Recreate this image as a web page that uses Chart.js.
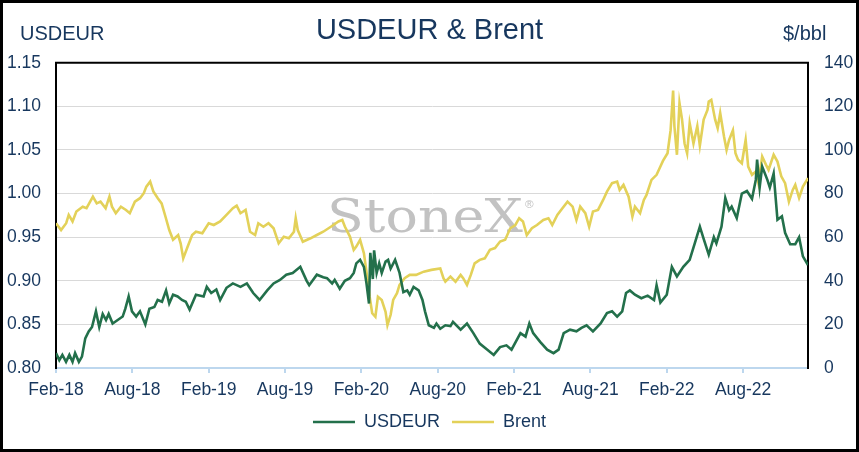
<!DOCTYPE html>
<html>
<head>
<meta charset="utf-8">
<title>USDEUR & Brent</title>
<script src="https://cdn.jsdelivr.net/npm/chart.js@4.4.1/dist/chart.umd.min.js"></script>
<style>
    html, body { margin: 0; padding: 0; background: #ffffff; }
    #wrap { position: relative; width: 859px; height: 452px; }
</style>
</head>
<body>
<div id="wrap"><canvas id="chart"></canvas></div>
<script>
// Months after 1 Feb 2018
const usdMonths = [
    0, 0.26, 0.5, 0.79, 1.05, 1.3, 1.5, 1.8, 2.04, 2.3,
    2.57, 2.83, 3.14, 3.4, 3.67, 3.93, 4.14, 4.45, 4.85, 5.24,
    5.45, 5.71, 5.97, 6.3, 6.6, 7.02, 7.34, 7.73, 7.99, 8.33,
    8.65, 8.9, 9.2, 9.56, 9.9, 10.2, 10.5, 11.0, 11.6, 11.85,
    12.2, 12.6, 12.9, 13.4, 13.9, 14.5, 15.0, 15.5, 16.0, 16.6,
    17.1, 17.6, 18.1, 18.6, 19.2, 19.7, 19.9, 20.5, 21.0, 21.3,
    21.7, 21.9, 22.3, 22.7, 23.1, 23.4, 23.6, 23.9, 24.2, 24.4,
    24.6, 24.7, 24.9, 25.0, 25.2, 25.4, 25.6, 25.9, 26.1, 26.3,
    26.65, 27.0, 27.3, 27.6, 27.8, 28.1, 28.5, 28.8, 29.0, 29.3,
    29.7, 29.9, 30.2, 30.6, 31.0, 31.2, 31.8, 32.3, 32.8, 33.3,
    33.9, 34.4, 34.9, 35.4, 35.8, 36.5, 36.9, 37.2, 37.5, 38.05,
    38.6, 39.1, 39.5, 39.9, 40.4, 40.9, 41.3, 41.7, 42.2, 42.8,
    43.3, 43.7, 44.1, 44.5, 44.8, 45.1, 45.5, 46.0, 46.5, 47.0,
    47.2, 47.5, 48.0, 48.4, 48.8, 49.3, 49.8, 50.2, 50.6, 50.9,
    51.3, 51.7, 51.9, 52.3, 52.6, 52.9, 53.1, 53.5, 53.9, 54.3,
    54.7, 55.0, 55.1, 55.3, 55.5, 55.9, 56.1, 56.4, 56.7, 57.05,
    57.3, 57.7, 58.1, 58.4, 58.7, 59.1
];
const usdValues = [
    0.817, 0.809, 0.815, 0.807, 0.815, 0.807, 0.817, 0.807, 0.813, 0.834,
    0.842, 0.847, 0.865, 0.847, 0.862, 0.855, 0.862, 0.851, 0.855, 0.859,
    0.868, 0.882, 0.865, 0.859, 0.865, 0.850, 0.868, 0.870, 0.878, 0.876,
    0.889, 0.874, 0.884, 0.882, 0.878, 0.876, 0.867, 0.884, 0.882, 0.893,
    0.886, 0.890, 0.878, 0.892, 0.897, 0.893, 0.897, 0.886, 0.878, 0.889,
    0.897, 0.901, 0.907, 0.909, 0.916, 0.900, 0.895, 0.907, 0.904, 0.903,
    0.897, 0.901, 0.891, 0.900, 0.903, 0.909, 0.920, 0.924, 0.916, 0.897,
    0.874, 0.932, 0.902, 0.935, 0.909, 0.920, 0.909, 0.922, 0.924, 0.914,
    0.924, 0.909, 0.887, 0.889, 0.884, 0.893, 0.889, 0.878, 0.865, 0.849,
    0.846, 0.851, 0.845, 0.849, 0.848, 0.853, 0.844, 0.851, 0.840, 0.828,
    0.821, 0.815, 0.824, 0.826, 0.821, 0.840, 0.836, 0.851, 0.840, 0.830,
    0.821, 0.817, 0.821, 0.840, 0.844, 0.842, 0.846, 0.849, 0.842, 0.851,
    0.863, 0.865, 0.859, 0.865, 0.886, 0.889, 0.884, 0.880, 0.883, 0.878,
    0.895, 0.875, 0.884, 0.916, 0.905, 0.916, 0.924, 0.943, 0.962, 0.948,
    0.930, 0.950, 0.943, 0.962, 0.995, 0.981, 0.985, 0.972, 1.000, 1.003,
    0.994, 1.016, 1.039, 1.007, 1.031, 1.016, 1.007, 1.023, 0.970, 0.974,
    0.955, 0.942, 0.942, 0.950, 0.928, 0.918
];

const brentMonths = [
    0, 0.4, 0.8, 1.0, 1.3, 1.6, 2.1, 2.4, 2.9, 3.2,
    3.5, 3.9, 4.2, 4.4, 4.7, 5.1, 5.5, 5.8, 6.2, 6.6,
    6.9, 7.1, 7.4, 7.65, 8.0, 8.3, 8.6, 8.9, 9.2, 9.6,
    9.8, 10.0, 10.35, 10.7, 11.0, 11.5, 12.0, 12.4, 12.9, 13.4,
    13.9, 14.2, 14.5, 14.9, 15.25, 15.65, 15.9, 16.3, 16.7, 17.1,
    17.5, 17.9, 18.3, 18.7, 18.84, 19.0, 19.4, 20.0, 20.5, 21.0,
    21.6, 22.2, 22.5, 22.7, 23.1, 23.4, 23.6, 23.9, 24.2, 24.4,
    24.65, 24.85, 25.1, 25.3, 25.6, 25.9, 26.05, 26.3, 26.5, 26.8,
    27.0, 27.4, 27.8, 28.3, 28.9, 29.5, 30.2, 30.45, 30.6, 31.0,
    31.4, 31.8, 32.0, 32.3, 32.6, 32.9, 33.3, 33.7, 34.1, 34.5,
    34.9, 35.3, 35.7, 36.1, 36.4, 36.7, 37.0, 37.4, 37.8, 38.3,
    38.7, 39.0, 39.4, 39.8, 40.2, 40.6, 40.9, 41.2, 41.6, 41.9,
    42.2, 42.6, 43.0, 43.3, 43.7, 44.1, 44.3, 44.6, 45.0, 45.3,
    45.5, 45.9, 46.2, 46.4, 46.8, 47.2, 47.5, 47.7, 48.06, 48.3,
    48.5, 48.6, 48.8, 49.0, 49.2, 49.4, 49.6, 49.8, 50.1, 50.4,
    50.6, 50.9, 51.2, 51.3, 51.5, 51.8, 52.0, 52.2, 52.5, 52.7,
    52.9, 53.2, 53.4, 53.6, 53.9, 54.2, 54.4, 54.7, 55.0, 55.2,
    55.5, 55.8, 56.0, 56.4, 56.7, 57.0, 57.3, 57.6, 57.9, 58.1,
    58.4, 58.7, 59.1
];
const brentValues = [
    66.4, 63.3, 66.4, 70.2, 67.2, 71.8, 74.0, 73.3, 78.6, 75.5,
    76.3, 73.3, 78.6, 74.0, 71.0, 74.0, 72.5, 71.0, 76.3, 77.9,
    80.2, 83.2, 85.5, 81.0, 77.9, 75.5, 69.5, 63.3, 58.8, 61.0,
    57.1, 50.3, 55.7, 61.0, 62.5, 61.8, 66.4, 65.6, 67.2, 70.2,
    73.3, 74.5, 71.0, 72.5, 62.5, 61.0, 66.4, 64.8, 66.4, 64.1,
    57.2, 60.2, 59.5, 62.5, 68.7, 63.3, 57.9, 59.5, 61.0, 62.5,
    64.8, 67.2, 67.9, 64.9, 60.3, 54.2, 55.7, 58.8, 52.6, 44.2,
    32.7, 25.1, 23.5, 32.7, 31.2, 25.8, 19.7, 24.4, 31.2, 34.3,
    38.1, 41.2, 42.7, 42.7, 44.2, 45.0, 45.7, 41.2, 39.6, 41.9,
    39.6, 42.7, 41.2, 38.1, 42.7, 48.0, 49.6, 50.3, 54.2, 55.0,
    58.0, 58.8, 64.1, 65.6, 68.7, 67.2, 61.0, 64.1, 65.6, 67.9,
    68.7, 65.6, 70.2, 73.3, 76.3, 74.0, 67.9, 74.0, 71.0, 64.8,
    71.8, 72.5, 77.1, 80.9, 84.8, 85.5, 81.7, 84.0, 78.6, 69.5,
    74.0, 71.0, 77.1, 79.3, 86.3, 88.6, 92.4, 95.0, 98.5, 109.0,
    127.3, 111.0, 97.8, 121.5, 114.0, 103.0, 98.5, 112.3, 103.0, 111.0,
    102.0, 114.0, 118.4, 122.2, 123.0, 114.0, 110.0, 117.0, 106.2, 100.0,
    104.6, 109.0, 98.5, 95.5, 93.9, 104.6, 92.4, 88.6, 90.1, 84.8,
    97.0, 93.2, 90.9, 97.8, 94.7, 87.9, 84.8, 76.3, 81.7, 84.0,
    78.0, 83.2, 87.1
];

const tickMonths = [0, 6, 12, 18, 24, 30, 36, 42, 48, 54];
const tickLabels = ['Feb-18', 'Aug-18', 'Feb-19', 'Aug-19', 'Feb-20', 'Aug-20', 'Feb-21', 'Aug-21', 'Feb-22', 'Aug-22'];

const NAVY = '#17375e';
const GREEN = '#23704b';
const YELLOW = '#e3d159';
const SANS = '"Liberation Sans", Arial, sans-serif';

function toPoints(months, values) {
    return months.map((m, i) => ({ x: m, y: values[i] }));
}

// Watermark, top border, axis captions and frame
const decorPlugin = {
    id: 'decor',
    beforeDatasetsDraw(chart) {
        const ctx = chart.ctx;
        ctx.save();
        ctx.fillStyle = '#c2c2c2';
        ctx.translate(327, 232);
        ctx.scale(1.17, 1);
        ctx.font = '46px "DejaVu Serif", "Liberation Serif", serif';
        ctx.textBaseline = 'alphabetic';
        ctx.fillText('StoneX', 0, 0);
        const w = ctx.measureText('StoneX').width;
        ctx.font = '10px ' + SANS;
        ctx.fillText('\u00AE', w + 2, -24);
        ctx.restore();
    },
    afterDraw(chart) {
        const ctx = chart.ctx;
        const area = chart.chartArea;
        ctx.save();
        ctx.strokeStyle = '#000000';
        ctx.lineWidth = 2;
        ctx.beginPath();
        ctx.moveTo(area.left - 1, area.top);
        ctx.lineTo(area.right + 1, area.top);
        ctx.stroke();

        ctx.fillStyle = NAVY;
        ctx.font = '20px ' + SANS;
        ctx.textBaseline = 'middle';
        ctx.textAlign = 'left';
        ctx.fillText('USDEUR', 20, 34);
        ctx.fillText('$/bbl', 783, 34);

        ctx.lineWidth = 3;
        ctx.strokeRect(1.5, 1.5, chart.width - 3, chart.height - 3);
        ctx.restore();
    }
};

new Chart(document.getElementById('chart'), {
    type: 'line',
    data: {
        datasets: [{
            label: 'USDEUR',
            data: toPoints(usdMonths, usdValues),
            borderColor: GREEN,
            backgroundColor: GREEN,
            borderWidth: 2.6,
            pointRadius: 0,
            tension: 0,
            yAxisID: 'y'
        }, {
            label: 'Brent',
            data: toPoints(brentMonths, brentValues),
            borderColor: YELLOW,
            backgroundColor: YELLOW,
            borderWidth: 2.6,
            pointRadius: 0,
            tension: 0,
            yAxisID: 'y1'
        }]
    },
    options: {
        responsive: true,
        maintainAspectRatio: false,
        animation: false,
        layout: {
            padding: { left: 0, right: 0, top: 0, bottom: 11 }
        },
        plugins: {
            title: {
                display: true,
                text: 'USDEUR & Brent',
                color: NAVY,
                font: { family: SANS, size: 29, weight: 'normal' },
                padding: { top: 14, bottom: 14 }
            },
            legend: {
                position: 'bottom',
                labels: {
                    color: NAVY,
                    font: { family: SANS, size: 18 },
                    usePointStyle: true,
                    pointStyle: 'line',
                    pointStyleWidth: 42,
                    padding: 12
                }
            },
            tooltip: { enabled: false }
        },
        scales: {
            x: {
                type: 'linear',
                min: 0,
                max: 59.1,
                afterBuildTicks: scale => {
                    scale.ticks = tickMonths.map(v => ({ value: v }));
                },
                afterFit: scale => { scale.height = 33; },
                grid: {
                    drawOnChartArea: false,
                    drawTicks: true,
                    tickLength: 5,
                    color: '#bdd7ee',
                    lineWidth: 2
                },
                border: { color: '#bdd7ee', width: 2 },
                ticks: {
                    autoSkip: false,
                    maxRotation: 0,
                    padding: 7,
                    color: NAVY,
                    font: { family: SANS, size: 17.5 },
                    callback: (value, index) => tickLabels[index]
                }
            },
            y: {
                position: 'left',
                min: 0.8,
                max: 1.15,
                afterFit: scale => { scale.width = 56; },
                grid: { color: '#d9d9d9', lineWidth: 1, drawTicks: false },
                border: { color: '#000000', width: 2 },
                ticks: {
                    stepSize: 0.05,
                    padding: 15,
                    color: NAVY,
                    font: { family: SANS, size: 17.5 },
                    callback: value => value.toFixed(2)
                }
            },
            y1: {
                position: 'right',
                min: 0,
                max: 140,
                afterFit: scale => { scale.width = 51; },
                grid: { drawOnChartArea: false, drawTicks: false },
                border: { color: '#000000', width: 2 },
                ticks: {
                    stepSize: 20,
                    padding: 16,
                    color: NAVY,
                    font: { family: SANS, size: 17.5 }
                }
            }
        }
    },
    plugins: [decorPlugin]
});
</script>
</body>
</html>
